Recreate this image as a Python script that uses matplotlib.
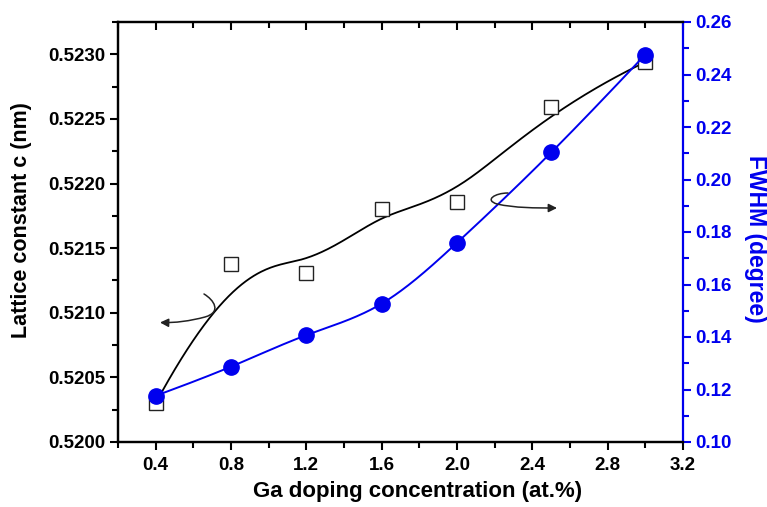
import matplotlib
matplotlib.use("Agg")
import matplotlib.pyplot as plt
import numpy as np
from matplotlib.path import Path
from matplotlib.patches import FancyArrowPatch
from matplotlib.ticker import MultipleLocator, FormatStrFormatter

plt.rcParams['font.family'] = ['Liberation Sans', 'DejaVu Sans']
plt.rcParams['font.weight'] = 'bold'

""" DATA """

ga_conc = [0.4, 0.8, 1.2, 1.6, 2.0, 2.5, 3.0]
lattice_c = [0.52030, 0.52138, 0.52131, 0.52180, 0.52186, 0.52259, 0.52294]
fwhm = [0.1176, 0.1287, 0.1407, 0.1527, 0.1759, 0.2103, 0.2476]

x_ticks = [0.4, 0.8, 1.2, 1.6, 2.0, 2.4, 2.8, 3.2]
left_ticks = [0.5200, 0.5205, 0.5210, 0.5215, 0.5220, 0.5225, 0.5230]
right_ticks = [0.10, 0.12, 0.14, 0.16, 0.18, 0.20, 0.22, 0.24, 0.26]

BLUE = '#0000ee'
W, H = 767, 507


""" CURVE FUNCTIONS """


def bspline(cx, cy, num=400, k=3):
    """ clamped uniform B-spline with data points as control points (Origin style) """
    n = len(cx)
    knots = np.concatenate([np.zeros(k), np.arange(n - k + 1), np.full(k, n - k)]).astype(float)
    t = np.linspace(0, n - k, num)
    t[-1] -= 1e-9

    def basis(i, d):
        if d == 0:
            return ((knots[i] <= t) & (t < knots[i + 1])).astype(float)
        out = np.zeros_like(t)
        den = knots[i + d] - knots[i]
        if den > 0:
            out += (t - knots[i]) / den * basis(i, d - 1)
        den = knots[i + d + 1] - knots[i + 1]
        if den > 0:
            out += (knots[i + d + 1] - t) / den * basis(i + 1, d - 1)
        return out

    B = np.array([basis(i, k) for i in range(n)])
    return B.T @ np.asarray(cx), B.T @ np.asarray(cy)


def natural_spline(x, y, num=400):
    x = np.asarray(x, float)
    y = np.asarray(y, float)
    n = len(x)
    h = np.diff(x)
    A = np.zeros((n, n))
    r = np.zeros(n)
    A[0, 0] = A[-1, -1] = 1
    for i in range(1, n - 1):
        A[i, i - 1] = h[i - 1]
        A[i, i] = 2 * (h[i - 1] + h[i])
        A[i, i + 1] = h[i]
        r[i] = 6 * ((y[i + 1] - y[i]) / h[i] - (y[i] - y[i - 1]) / h[i - 1])
    M = np.linalg.solve(A, r)
    xs = np.linspace(x[0], x[-1], num)
    idx = np.clip(np.searchsorted(x, xs) - 1, 0, n - 2)
    x0, x1, hh = x[idx], x[idx + 1], h[idx]
    ys = (M[idx] * (x1 - xs) ** 3 / (6 * hh) + M[idx + 1] * (xs - x0) ** 3 / (6 * hh)
          + (y[idx] / hh - M[idx] * hh / 6) * (x1 - xs)
          + (y[idx + 1] / hh - M[idx + 1] * hh / 6) * (xs - x0))
    return xs, ys


def px(pts):
    """ pixel coords (origin top-left) to figure fraction """
    return [(a / W, 1 - b / H) for a, b in pts]


""" PLOT """

fig = plt.figure(figsize=(W / 100, H / 100), dpi=100)
ax = fig.add_axes([118 / W, 1 - 442 / H, 565 / W, 420 / H])
ax2 = ax.twinx()

bx, by = bspline(ga_conc, lattice_c)
ax.plot(bx, by, color='black', lw=1.3, zorder=2)
ax.plot(ga_conc, lattice_c, 's', ms=10.5, mfc='white', mec='#222222', mew=1.0, zorder=3)

sx, sy = natural_spline(ga_conc, fwhm)
ax2.plot(sx, sy, color=BLUE, lw=1.4, zorder=2)
ax2.plot(ga_conc, fwhm, 'o', ms=11, color=BLUE, zorder=3)

ax.set_xlim(0.2, 3.2)
ax.set_ylim(0.5200, 0.52325)
ax2.set_ylim(0.10, 0.26)

ax.set_xticks(x_ticks)
ax.xaxis.set_minor_locator(MultipleLocator(0.2))
ax.set_yticks(left_ticks)
ax.yaxis.set_major_formatter(FormatStrFormatter('%.4f'))
ax.yaxis.set_minor_locator(MultipleLocator(0.00025))
ax2.set_yticks(right_ticks)
ax2.yaxis.set_major_formatter(FormatStrFormatter('%.2f'))
ax2.yaxis.set_minor_locator(MultipleLocator(0.01))

fs = 13.5
ax.tick_params(axis='x', which='both', direction='out', labelsize=fs, width=1.5,
               top=True, pad=5)
ax.tick_params(axis='x', which='major', length=6)
ax.tick_params(axis='x', which='minor', length=4)
ax.tick_params(axis='y', which='both', direction='out', labelsize=fs, width=1.5, pad=3)
ax.tick_params(axis='y', which='major', length=6)
ax.tick_params(axis='y', which='minor', length=4)
ax2.tick_params(axis='y', which='both', direction='out', labelsize=fs, width=1.5,
                colors=BLUE, pad=3)
ax2.tick_params(axis='y', which='major', length=6)
ax2.tick_params(axis='y', which='minor', length=4)

# top ticks point inward
for t in ax.xaxis.get_major_ticks() + ax.xaxis.get_minor_ticks():
    t.tick2line.set_marker(3)

for s in ['left', 'bottom', 'top']:
    ax.spines[s].set_linewidth(1.6)
    ax2.spines[s].set_linewidth(1.6)
ax2.spines['right'].set_linewidth(1.6)
ax2.spines['right'].set_color(BLUE)
ax.spines['right'].set_visible(False)

ax.set_xlabel('Ga doping concentration (at.%)', fontsize=16, fontweight='bold')
ax.set_ylabel('Lattice constant c (nm)', fontsize=15.5, fontweight='bold')
ax2.set_ylabel('FWHM (degree)', fontsize=16.5, fontweight='bold', color=BLUE,
               rotation=270)
for lab in [ax.xaxis.label, ax.yaxis.label, ax2.yaxis.label]:
    lab.set_va('center')
    lab.set_ha('center')
ax.xaxis.set_label_coords((418 - 118) / 565, (442 - 491) / 420)
ax.yaxis.set_label_coords((22 - 118) / 565, (442 - 220) / 420)
ax2.yaxis.set_label_coords((755 - 118) / 565, (442 - 239) / 420)

# curly arrows pointing to the respective axes
arrow_left = Path(px([(204, 294), (214, 300), (222, 312), (205, 317),
                      (190, 321), (175, 323), (160, 322.5)]),
                  [Path.MOVETO, Path.CURVE4, Path.CURVE4, Path.CURVE4,
                   Path.CURVE4, Path.CURVE4, Path.CURVE4])
arrow_right = Path(px([(508, 193), (495, 193), (484, 200), (497, 204),
                       (515, 208), (535, 208), (557, 208)]),
                   [Path.MOVETO, Path.CURVE4, Path.CURVE4, Path.CURVE4,
                    Path.CURVE4, Path.CURVE4, Path.CURVE4])
for p in [arrow_left, arrow_right]:
    fig.patches.append(FancyArrowPatch(path=p, arrowstyle='-|>,head_length=5,head_width=2.5',
                                       color='#222222', lw=1.1, transform=fig.transFigure,
                                       figure=fig))

fig.savefig('out.png', dpi=100)
